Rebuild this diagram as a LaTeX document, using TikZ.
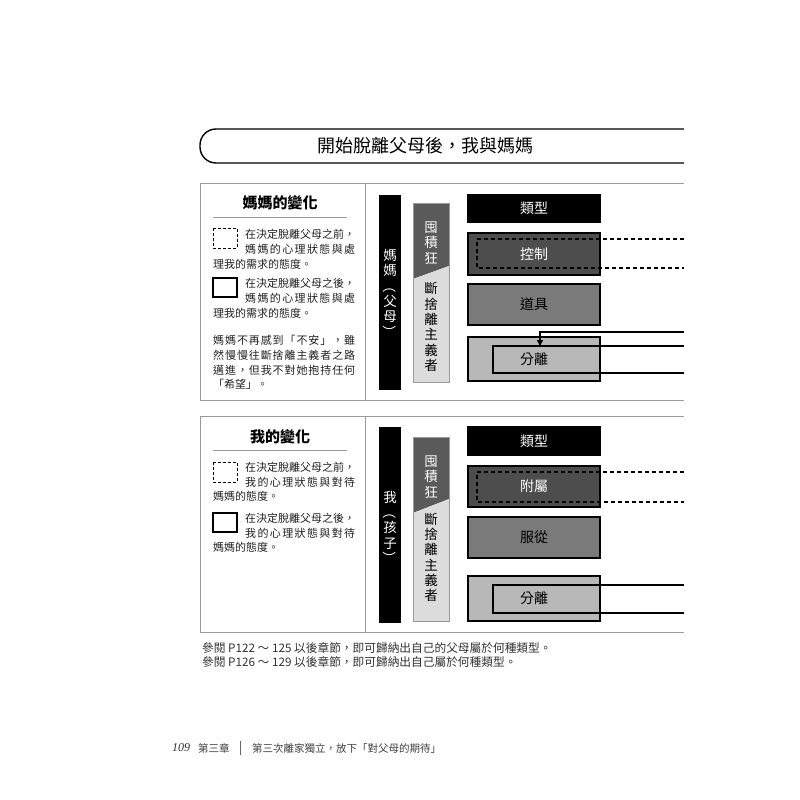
\documentclass[tikz,border=0pt]{standalone}
\usepackage{graphicx}
\usepackage{fontspec}
\setmainfont{Noto Sans CJK TC}
\newfontfamily\lserif{Liberation Serif}
\usetikzlibrary{arrows.meta}
\definecolor{ctrlgray}{HTML}{4D4D4D}
\definecolor{toolgray}{HTML}{7A7A7A}
\definecolor{sepgray}{HTML}{B8B8B8}
\definecolor{hoardgray}{HTML}{5A5A5A}
\definecolor{mingray}{HTML}{DCDCDC}
\definecolor{framegray}{HTML}{9A9A9A}
\definecolor{txt}{HTML}{222222}
\def\spreadchars#1{\spreadA#1\spreadEnd}
\def\spreadA#1#2\spreadEnd{#1\ifx\relax#2\relax\else\hfill\spreadA#2\spreadEnd\fi}
\newcommand\jline[2]{\hbox to #1{\spreadchars{#2}}}
\newcommand\vlp{\rotatebox[origin=c]{-90}{（}}
\newcommand\vrp{\rotatebox[origin=c]{-90}{）}}
\tikzset{
  x=1pt, y=-1pt,
  frame/.style={draw=framegray, line width=1pt},
  tl/.style={anchor=west, inner sep=0pt, font=\fontsize{11}{13}\selectfont, text=txt},
  heading/.style={inner sep=0pt, font=\fontsize{15}{17}\selectfont\bfseries, text=black},
  typebox/.style={draw=black, line width=1.2pt, minimum width=132pt, inner sep=0pt, font=\fontsize{14}{16}\selectfont},
  vtext/.style={align=center, inner sep=0pt, font=\fontsize{13.5}{15.3}\selectfont},
  dashline/.style={line width=1.2pt, dash pattern=on 4pt off 3pt},
  solidline/.style={line width=1.4pt},
  legdash/.style={draw=black, line width=0.8pt, dash pattern=on 3pt off 2pt},
  legsolid/.style={draw=black, line width=1.5pt},
}
\begin{document}
\begin{tikzpicture}
\useasboundingbox[fill=white] (0,0) rectangle (800,800);

% ---------- title ----------
\coordinate (tA) at (684,129);
\coordinate (tB) at (200,129);
\coordinate (tC) at (200,163);
\coordinate (tD) at (684,163);
\draw[line width=1.4pt, rounded corners=16pt] (tA) -- (tB) -- (tC) -- (tD);
\node[inner sep=0pt, font=\fontsize{18}{20}\selectfont] (title) at (425,146) {開始脫離父母後，我與媽媽};

% ---------- top section frame ----------
\draw[frame] (684,183) -- (200,183) -- (200,400) -- (684,400);
\draw[frame] (365,183) -- (365,400);

\node[heading] (h1) at (280,203) {媽媽的變化};
\draw[draw=framegray, line width=0.8pt] (213,217) -- (347,217);
\draw[legdash] (213,228) rectangle (237,248);
\node[tl] (a1) at (245,234) {\jline{110pt}{在決定脫離父母之前，}};
\node[tl] (a2) at (245,249) {\jline{110pt}{媽媽的心理狀態與處}};
\node[tl] (a3) at (213,264) {理我的需求的態度。};
\draw[legsolid] (213,278) rectangle (237,297);
\node[tl] (b1) at (245,283) {\jline{110pt}{在決定脫離父母之後，}};
\node[tl] (b2) at (245,298) {\jline{110pt}{媽媽的心理狀態與處}};
\node[tl] (b3) at (213,313) {理我的需求的態度。};
\node[tl] (p1) at (213,340) {\jline{142pt}{媽媽不再感到「不安」，雖}};
\node[tl] (p2) at (213,355) {\jline{142pt}{然慢慢往斷捨離主義者之路}};
\node[tl] (p3) at (213,370) {\jline{142pt}{邁進，但我不對她抱持任何}};
\node[tl] (p4) at (213,384) {「希望」。};

% vertical bars (top)
\fill[black] (379,195) rectangle (401,390);
\node[vtext, text=white] (mom) at (390,294) {媽\\媽\\\vlp\\父\\母\\\vrp};
\fill[hoardgray] (413,203) -- (449,203) -- (449,266) -- (413,279) -- cycle;
\fill[mingray] (413,279) -- (449,266) -- (449,382) -- (413,382) -- cycle;
\draw[draw=framegray, line width=0.8pt] (413,203) rectangle (449,382);
\node[vtext, text=white] (hoard1) at (431,243) {囤\\積\\狂};
\node[vtext, text=black] (min1) at (431,327) {斷\\捨\\離\\主\\義\\者};

% type boxes (top)
\node[typebox, fill=black, text=white, minimum height=27pt] (type1) at (534,208.5) {類型};
\node[typebox, fill=ctrlgray, text=white, minimum height=42pt] (ctrl) at (534,254) {控制};
\node[typebox, fill=toolgray, text=black, minimum height=41pt] (tool) at (534,304.5) {道具};
\node[typebox, fill=sepgray, text=black, minimum height=44pt] (sep1) at (534,359) {分離};

\coordinate (d1a) at (684,239); \coordinate (d1b) at (477,239);
\coordinate (d1c) at (477,268); \coordinate (d1d) at (684,268);
\draw[dashline] (d1a) -- (d1b) -- (d1c) -- (d1d);
\coordinate (s1a) at (684,346); \coordinate (s1b) at (493,346);
\coordinate (s1c) at (493,373); \coordinate (s1d) at (684,373);
\draw[solidline] (s1a) -- (s1b) -- (s1c) -- (s1d);
\coordinate (arA) at (684,332); \coordinate (arB) at (540,332); \coordinate (arC) at (540,346);
\draw[solidline, -{Triangle[length=6pt,width=6pt]}] (arA) -- (arB) -- (arC);

% ---------- bottom section frame ----------
\draw[frame] (684,416) -- (200,416) -- (200,632) -- (684,632);
\draw[frame] (365,416) -- (365,632);

\node[heading] (h2) at (280,437) {我的變化};
\draw[draw=framegray, line width=0.8pt] (213,450) -- (347,450);
\draw[legdash] (213,462) rectangle (237,482);
\node[tl] (c1) at (245,467) {\jline{110pt}{在決定脫離父母之前，}};
\node[tl] (c2) at (245,482) {\jline{110pt}{我的心理狀態與對待}};
\node[tl] (c3) at (213,496) {媽媽的態度。};
\draw[legsolid] (213,513) rectangle (237,532);
\node[tl] (e1) at (245,518) {\jline{110pt}{在決定脫離父母之後，}};
\node[tl] (e2) at (245,533) {\jline{110pt}{我的心理狀態與對待}};
\node[tl] (e3) at (213,547) {媽媽的態度。};

% vertical bars (bottom)
\fill[black] (379,427) rectangle (401,623);
\node[vtext, text=white] (me) at (390,528) {我\\\vlp\\孩\\子\\\vrp};
\fill[hoardgray] (413,437) -- (449,437) -- (449,499) -- (413,513) -- cycle;
\fill[mingray] (413,513) -- (449,499) -- (449,621) -- (413,621) -- cycle;
\draw[draw=framegray, line width=0.8pt] (413,437) rectangle (449,621);
\node[vtext, text=white] (hoard2) at (431,477) {囤\\積\\狂};
\node[vtext, text=black] (min2) at (431,557.5) {斷\\捨\\離\\主\\義\\者};

% type boxes (bottom)
\node[typebox, fill=black, text=white, minimum height=28pt] (type2) at (534,441) {類型};
\node[typebox, fill=ctrlgray, text=white, minimum height=41pt] (att) at (534,486.5) {附屬};
\node[typebox, fill=toolgray, text=black, minimum height=41pt] (obey) at (534,537.5) {服從};
\node[typebox, fill=sepgray, text=black, minimum height=45pt] (sep2) at (534,598.5) {分離};

\coordinate (d2a) at (684,472); \coordinate (d2b) at (477,472);
\coordinate (d2c) at (477,502); \coordinate (d2d) at (684,502);
\draw[dashline] (d2a) -- (d2b) -- (d2c) -- (d2d);
\coordinate (s2a) at (684,585); \coordinate (s2b) at (493,585);
\coordinate (s2c) at (493,613); \coordinate (s2d) at (684,613);
\draw[solidline] (s2a) -- (s2b) -- (s2c) -- (s2d);

% ---------- footnotes ----------
\node[tl, font=\fontsize{11.7}{13}\selectfont, text=black!80] (n1) at (202,648) {參閱 P122 ～ 125 以後章節，即可歸納出自己的父母屬於何種類型。};
\node[tl, font=\fontsize{11.7}{13}\selectfont, text=black!80] (n2) at (202,662) {參閱 P126 ～ 129 以後章節，即可歸納出自己屬於何種類型。};

% ---------- footer ----------
\node[anchor=west, inner sep=0pt, font=\lserif\itshape\fontsize{12}{14}\selectfont, text=black!80] (pg) at (172,748) {109};
\node[anchor=west, inner sep=0pt, font=\fontsize{10.5}{12}\selectfont, text=black!75] (ch) at (198,748) {第三章};
\draw[black!60, line width=0.6pt] (240,741) -- (240,755);
\node[anchor=west, inner sep=0pt, font=\fontsize{10.5}{12}\selectfont, text=black!75] (ft) at (252,748) {第三次離家獨立，放下「對父母的期待」};
\end{tikzpicture}
\end{document}
